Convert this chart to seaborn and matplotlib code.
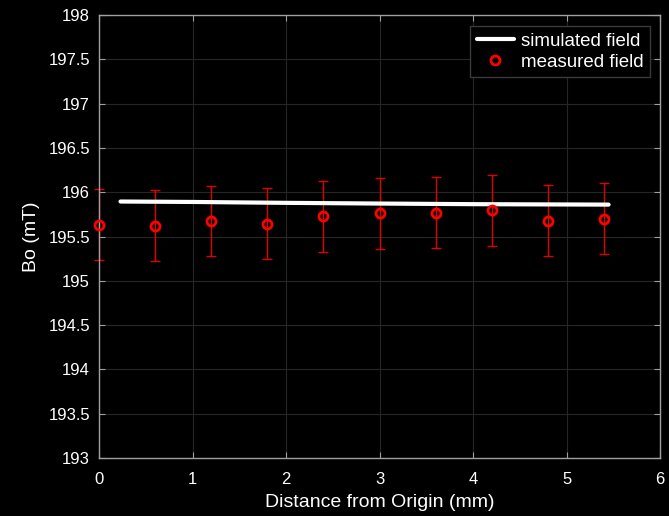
import numpy as np
import pandas as pd
import matplotlib
matplotlib.use('Agg')
import matplotlib.pyplot as plt
import seaborn as sns

# simulated field (white line)
sim_x = [0.23, 1.0, 2.0, 3.0, 4.0, 5.45]
sim_bo = [195.895, 195.89, 195.88, 195.872, 195.865, 195.86]

# measured field (red circles with error bars)
meas_x = [0.0, 0.6, 1.2, 1.8, 2.4, 3.0, 3.6, 4.2, 4.8, 5.4]
meas_bo = [195.635, 195.62, 195.675, 195.645, 195.73, 195.76, 195.77, 195.795, 195.68, 195.70]
meas_err = [0.4] * 10

x_ticks = [0, 1, 2, 3, 4, 5, 6]
y_ticks = np.arange(193, 198.01, 0.5)
y_labels = ['193', '193.5', '194', '194.5', '195', '195.5', '196', '196.5', '197', '197.5', '198']

sns.set_style('dark')
plt.rcParams['font.family'] = ['Liberation Sans', 'DejaVu Sans']

sim_df = pd.DataFrame({'x': sim_x, 'Bo': sim_bo})
meas_df = pd.DataFrame({'x': meas_x, 'Bo': meas_bo, 'err': meas_err})

fig = plt.figure(figsize=(6.69, 5.16), dpi=100, facecolor='black')
ax = fig.add_axes([0.148, 0.1124, 0.8386, 0.8585])
ax.set_facecolor('black')

eb = ax.errorbar(meas_df['x'], meas_df['Bo'], yerr=meas_df['err'], fmt='none',
                 ecolor='#e00000', elinewidth=1, capsize=3.6, capthick=1, zorder=2)
for part in eb.lines[1] + eb.lines[2]:
    part.set_clip_on(False)
sns.lineplot(data=sim_df, x='x', y='Bo', ax=ax, color='white', linewidth=3,
             label='simulated field', zorder=3)
ax.plot(meas_df['x'], meas_df['Bo'], linestyle='none', marker='o', markersize=6.5,
        markerfacecolor='none', markeredgecolor='red', markeredgewidth=2,
        label='measured field', zorder=4, clip_on=False)

ax.set_xlim(0, 6)
ax.set_ylim(193, 198)
ax.set_xticks(x_ticks)
ax.set_yticks(y_ticks)
ax.set_yticklabels(y_labels)
ax.grid(True, color='#262626', linewidth=0.8)
ax.tick_params(direction='in', colors='#a0a0a0', labelcolor='white', labelsize=12,
               length=4, top=True, right=True, bottom=True, left=True,
               labeltop=False, labelright=False)
ax.tick_params(axis='x', pad=10)
ax.tick_params(axis='y', pad=6.5)
for s in ax.spines.values():
    s.set_visible(True)
    s.set_color('#a0a0a0')
    s.set_linewidth(1)

ax.set_xlabel('Distance from Origin (mm)', color='white', fontsize=14, labelpad=5)
ax.set_ylabel('Bo (mT)', color='white', fontsize=14, labelpad=6)

leg = ax.legend(loc='upper right', fontsize=13.5, facecolor='black', edgecolor='#3a3a3a',
                framealpha=1, fancybox=False, borderpad=0.35, handlelength=2.0,
                handletextpad=0.35, labelspacing=0.2, borderaxespad=0,
                bbox_to_anchor=(0.982, 0.975))
for t in leg.get_texts():
    t.set_color('white')

fig.savefig('out.png', dpi=100, facecolor='black')
